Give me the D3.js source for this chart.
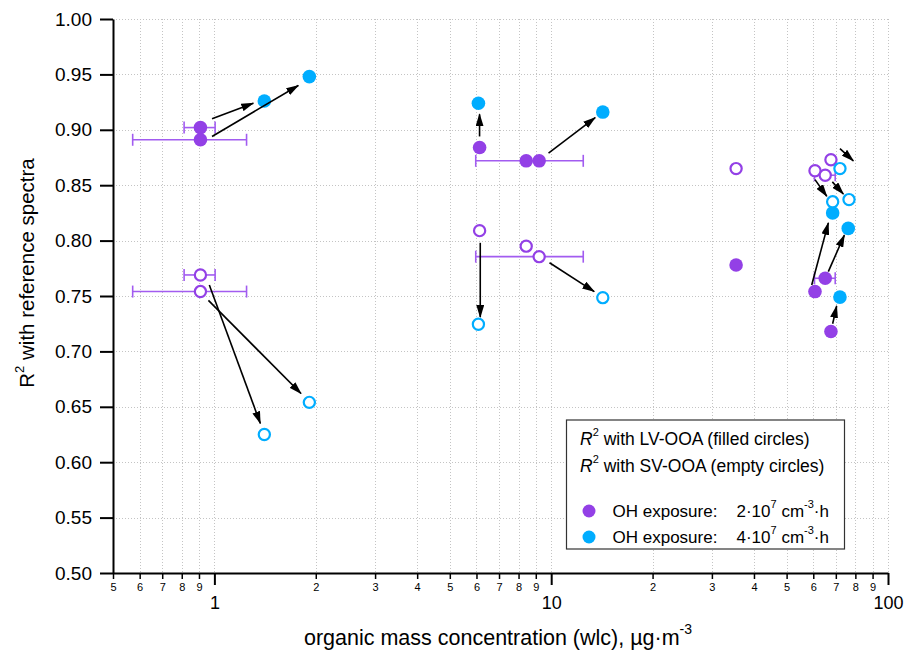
<!DOCTYPE html>
<html>
<head>
<meta charset="utf-8">
<script src="https://cdn.jsdelivr.net/npm/d3@7"></script>
<style>
body { margin: 0; background: #fff; }
svg { font-family: "Liberation Sans", Arial, Helvetica, sans-serif; }
</style>
</head>
<body>
<svg id="chart"></svg>
<script>
// [x, y, xErr] ; xErr = 0 means no error bar
const lvOH2 = [
    [0.909, 0.902, 0.096], [0.909, 0.891, 0.337],
    [6.13, 0.884, 0], [8.43, 0.872, 0], [9.21, 0.872, 3.24],
    [35.4, 0.778, 0], [60.7, 0.754, 0], [65.1, 0.766, 4.6], [67.7, 0.718, 0]
];
const lvOH4 = [
    [1.407, 0.926], [1.914, 0.948],
    [6.08, 0.924], [14.23, 0.916],
    [68.5, 0.825], [76.2, 0.811], [72.0, 0.749]
];
const svOH2 = [
    [0.909, 0.769, 0.096], [0.909, 0.754, 0.337],
    [6.13, 0.809, 0], [8.43, 0.795, 0], [9.21, 0.7855, 3.24],
    [35.4, 0.865, 0], [60.7, 0.863, 0], [65.1, 0.859, 4.6], [67.7, 0.873, 0]
];
const svOH4 = [
    [1.407, 0.625], [1.914, 0.654],
    [6.08, 0.7245], [14.23, 0.7485],
    [68.5, 0.835], [76.6, 0.837], [72.0, 0.865]
];
// arrows [x1, y1, x2, y2] in data units
const arrows = [
    [0.984, 0.910, 1.305, 0.924], [0.984, 0.894, 1.775, 0.940],
    [0.966, 0.760, 1.369, 0.635], [0.960, 0.746, 1.808, 0.662],
    [6.128, 0.894, 6.128, 0.914], [9.82, 0.879, 13.51, 0.911],
    [6.157, 0.798, 6.157, 0.731], [9.886, 0.780, 13.42, 0.754],
    [59.36, 0.760, 66.5, 0.816], [66.5, 0.772, 74.2, 0.805],
    [68.5, 0.725, 70.4, 0.741], [60.7, 0.855, 65.8, 0.840],
    [68.35, 0.853, 73.7, 0.842], [72.0, 0.883, 78.9, 0.872]
];

const xMinorTicks = [0.5, 0.6, 0.7, 0.8, 0.9, 2, 3, 4, 5, 6, 7, 8, 9,
    20, 30, 40, 50, 60, 70, 80, 90];
const xMajorTicks = [1, 10, 100];
const yTicks = [0.5, 0.55, 0.6, 0.65, 0.7, 0.75, 0.8, 0.85, 0.9, 0.95, 1.0];

const purple = "#9340e6",
    blue = "#00adff",
    barColor = "#a25cf0";

const width = 905,
    height = 655;
const plotLeft = 113,
    plotRight = 888,
    plotTop = 19,
    plotBottom = 573;

const svg = d3.select("#chart").attr("width", width).attr("height", height);

const xScale = d3.scaleLog().domain([0.5, 100]).range([plotLeft, plotRight]);
const yScale = d3.scaleLinear().domain([0.5, 1.0]).range([plotBottom, plotTop]);

// grid
const grid = svg.append("g").attr("stroke", "#c4c4c4").attr("stroke-width", 1)
    .attr("stroke-dasharray", "1,2");
grid.selectAll(".gx")
    .data(xMinorTicks.concat(xMajorTicks).filter((d) => d > 0.5))
    .enter().append("line")
    .attr("x1", (d) => Math.round(xScale(d)) + 0.5)
    .attr("x2", (d) => Math.round(xScale(d)) + 0.5)
    .attr("y1", plotTop).attr("y2", plotBottom);
grid.selectAll(".gy")
    .data(yTicks.filter((d) => d > 0.5))
    .enter().append("line")
    .attr("y1", (d) => Math.round(yScale(d)) + 0.5)
    .attr("y2", (d) => Math.round(yScale(d)) + 0.5)
    .attr("x1", plotLeft).attr("x2", plotRight);

// axes
const mantissa = (d) => Math.round(d / Math.pow(10, Math.floor(Math.log10(d) + 1e-9)));

const xMinor = svg.append("g")
    .attr("transform", `translate(0, ${plotBottom})`)
    .call(d3.axisBottom(xScale).tickValues(xMinorTicks).tickFormat(mantissa)
        .tickSize(6).tickSizeOuter(0).tickPadding(4));
xMinor.selectAll("text").attr("font-size", 11).attr("fill", "#000");

const xMajor = svg.append("g")
    .attr("transform", `translate(0, ${plotBottom})`)
    .call(d3.axisBottom(xScale).tickValues(xMajorTicks).tickFormat(d3.format("d"))
        .tickSize(12).tickSizeOuter(0).tickPadding(11));
xMajor.selectAll("text").attr("font-size", 18).attr("fill", "#000");
xMajor.select(".domain").attr("stroke-width", 2);
xMajor.selectAll(".tick line").attr("stroke-width", 2);
xMinor.selectAll(".tick line").attr("stroke-width", 1.5);

const yAxis = svg.append("g")
    .attr("transform", `translate(${plotLeft}, 0)`)
    .call(d3.axisLeft(yScale).tickValues(yTicks).tickFormat(d3.format(".2f"))
        .tickSize(13).tickSizeOuter(0).tickPadding(8));
yAxis.selectAll("text").attr("font-size", 19).attr("fill", "#000");
yAxis.select(".domain").attr("stroke-width", 2);
yAxis.selectAll(".tick line").attr("stroke-width", 2);
svg.selectAll(".domain, .tick line").attr("stroke", "#000");

// error bars
const errData = lvOH2.concat(svOH2).filter((d) => d[2] > 0);
const bars = svg.append("g").attr("stroke", barColor).attr("stroke-width", 1.6);
errData.forEach((d) => {
    const y = yScale(d[1]),
        x1 = xScale(d[0] - d[2]),
        x2 = xScale(d[0] + d[2]);
    bars.append("line").attr("x1", x1).attr("x2", x2).attr("y1", y).attr("y2", y);
    [x1, x2].forEach((x) =>
        bars.append("line").attr("x1", x).attr("x2", x).attr("y1", y - 6).attr("y2", y + 6));
});

// points
const drawFilled = (data, color) => {
    svg.append("g").selectAll("circle").data(data).enter().append("circle")
        .attr("cx", (d) => xScale(d[0])).attr("cy", (d) => yScale(d[1]))
        .attr("r", 6.8).attr("fill", color);
};
const drawEmpty = (data, color) => {
    svg.append("g").selectAll("circle").data(data).enter().append("circle")
        .attr("cx", (d) => xScale(d[0])).attr("cy", (d) => yScale(d[1]))
        .attr("r", 5.6).attr("fill", "#fff").attr("stroke", color).attr("stroke-width", 2.2);
};
drawFilled(lvOH2, purple);
drawFilled(lvOH4, blue);
drawEmpty(svOH2, purple);
drawEmpty(svOH4, blue);

// arrows
svg.append("defs").append("marker")
    .attr("id", "head")
    .attr("viewBox", "0 0 13 8")
    .attr("refX", 12).attr("refY", 4)
    .attr("markerWidth", 13).attr("markerHeight", 8)
    .attr("markerUnits", "userSpaceOnUse")
    .attr("orient", "auto")
    .append("path").attr("d", "M0,0 L13,4 L0,8 Z").attr("fill", "#000");

svg.append("g").selectAll("line").data(arrows).enter().append("line")
    .attr("x1", (d) => xScale(d[0])).attr("y1", (d) => yScale(d[1]))
    .attr("x2", (d) => xScale(d[2])).attr("y2", (d) => yScale(d[3]))
    .attr("stroke", "#000").attr("stroke-width", 1.6)
    .attr("marker-end", "url(#head)");

// axis titles
const ylab = svg.append("text")
    .attr("transform", "translate(34, 273) rotate(-90)")
    .attr("text-anchor", "middle").attr("font-size", 20.5);
ylab.append("tspan").text("R");
ylab.append("tspan").attr("font-size", 13).attr("dy", -10).text("2");
ylab.append("tspan").attr("dy", 10).text(" with reference spectra");

const xlab = svg.append("text")
    .attr("x", 498).attr("y", 645)
    .attr("text-anchor", "middle").attr("font-size", 21.5);
xlab.append("tspan").text("organic mass concentration (wlc), µg·m");
xlab.append("tspan").attr("font-size", 14).attr("dy", -11).text("-3");

// legend
const lg = svg.append("g");
lg.append("rect").attr("x", 566.5).attr("y", 420).attr("width", 278).attr("height", 129)
    .attr("fill", "#fff").attr("stroke", "#333").attr("stroke-width", 1.2);

const r2Line = (y, txt) => {
    const t = lg.append("text").attr("x", 580).attr("y", y).attr("font-size", 17.5);
    t.append("tspan").attr("font-style", "italic").text("R");
    t.append("tspan").attr("font-size", 11).attr("dy", -9).text("2");
    t.append("tspan").attr("dy", 9).text(" " + txt);
};
r2Line(445, "with LV-OOA (filled circles)");
r2Line(471.5, "with SV-OOA (empty circles)");

const ohLine = (y, color, factor) => {
    lg.append("circle").attr("cx", 589).attr("cy", y - 5.5).attr("r", 6.5).attr("fill", color);
    lg.append("text").attr("x", 612.5).attr("y", y).attr("font-size", 17).text("OH exposure:");
    const t = lg.append("text").attr("x", 736.5).attr("y", y).attr("font-size", 17);
    t.append("tspan").text(factor + "·10");
    t.append("tspan").attr("font-size", 11).attr("dy", -9).text("7");
    t.append("tspan").attr("dy", 9).text(" cm");
    t.append("tspan").attr("font-size", 11).attr("dy", -9).text("-3");
    t.append("tspan").attr("dy", 9).text("·h");
};
ohLine(516.5, purple, "2");
ohLine(542.5, blue, "4");
</script>
</body>
</html>
